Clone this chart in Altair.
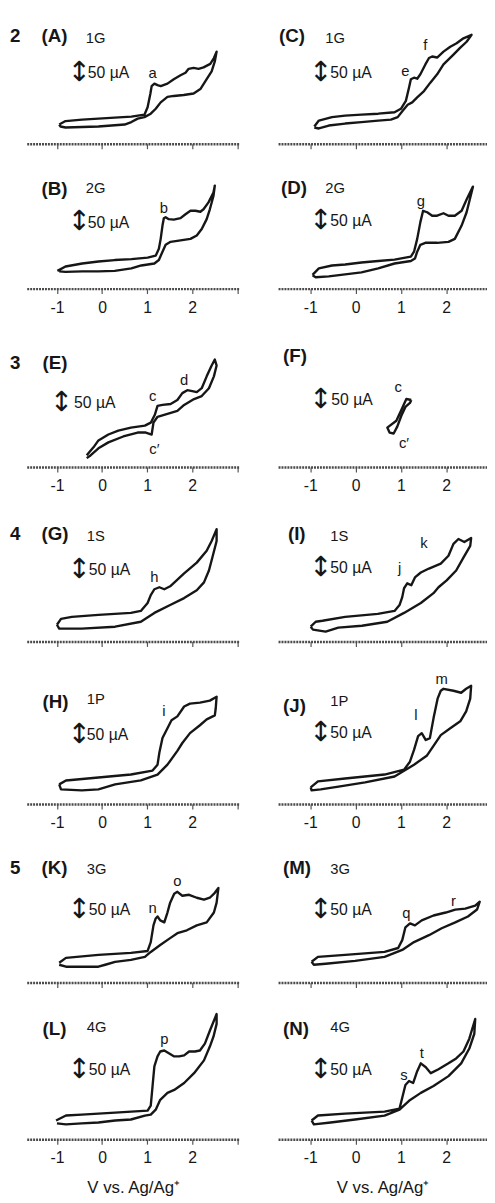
import altair as alt
import pandas as pd

INK = "#161616"
FONT = "Liberation Sans"

# ---------------- data (V vs Ag/Ag+, current in uA above each panel's axis) -------------
A_V = [-0.95,-0.81,-0.44,-0.08,0.28,0.65,0.94,1.01,1.07,1.10,1.16,1.23,1.30,1.45,1.59,1.74,1.85,1.92,2.03,2.14,2.25,2.40,2.48,2.54,
       2.50,2.43,2.32,2.18,2.03,1.81,1.59,1.45,1.30,1.19,1.08,0.94,0.79,0.65,0.50,0.21,-0.08,-0.44,-0.81,-0.92,-0.95]
A_I = [39,46,49,51,53,55,59,74,101,117,122,119,117,122,131,139,144,152,154,152,155,162,174,187,
       167,147,131,111,102,99,97,95,84,71,61,54,51,44,39,37,35,34,33,35,39]
C_V = [-0.91,-0.81,-0.52,-0.23,0.13,0.50,0.86,1.00,1.11,1.18,1.22,1.29,1.36,1.43,1.54,1.62,1.69,1.80,1.94,2.09,2.23,2.38,2.56,
       2.45,2.30,2.16,1.94,1.80,1.65,1.51,1.36,1.25,1.15,1.04,0.93,0.78,0.50,0.13,-0.23,-0.59,-0.81,-0.91]
C_I = [35,47,54,57,59,61,64,71,87,114,131,134,132,141,161,174,177,175,187,197,204,214,221,
       207,194,181,161,141,124,107,94,84,79,67,54,49,47,44,41,37,31,33]
B_V = [-0.99,-0.81,-0.44,-0.08,0.28,0.65,1.01,1.19,1.26,1.30,1.34,1.37,1.41,1.48,1.59,1.74,1.85,1.96,2.07,2.18,2.25,2.36,2.47,2.50,
       2.47,2.39,2.32,2.21,2.10,1.96,1.74,1.52,1.41,1.34,1.26,1.16,0.87,0.65,0.28,-0.08,-0.44,-0.81,-0.95]
B_I = [36,45,51,55,58,60,63,67,81,101,128,143,145,141,140,143,151,158,158,156,161,175,195,209,
       188,161,141,121,108,101,98,95,89,75,58,51,47,41,36,35,35,34,35]
D_V = [-0.95,-0.81,-0.52,-0.23,0.13,0.50,0.86,1.22,1.29,1.36,1.43,1.49,1.58,1.69,1.80,1.94,2.05,2.19,2.34,2.45,2.59,
       2.52,2.45,2.34,2.19,2.05,1.80,1.54,1.43,1.36,1.31,1.22,0.86,0.50,0.13,-0.23,-0.59,-0.88,-0.95]
D_I = [28,41,47,49,53,56,59,65,75,101,135,158,155,148,148,153,148,148,158,181,207,
       181,155,128,101,95,93,93,89,75,61,56,51,41,33,29,25,23,27]
E_V = [-0.34,-0.19,-0.08,0.14,0.36,0.64,0.95,1.08,1.17,1.23,1.34,1.52,1.67,1.78,1.89,2.00,2.10,2.21,2.32,2.43,2.50,
       2.54,2.48,2.37,2.21,2.04,1.82,1.67,1.45,1.23,1.14,1.10,0.97,0.79,0.47,0.14,-0.08,-0.25,-0.34]
E_I = [24,40,54,66,74,80,84,90,106,124,126,128,136,150,156,154,152,160,184,206,218,
       206,184,160,144,138,126,114,108,102,90,66,70,70,62,50,38,24,18]
F_V = [1.23,1.12,1.03,0.90,0.70,0.75,0.84,0.92,1.01,1.10,1.20,1.23]
F_I = [136,138,120,94,80,70,68,82,104,122,130,136]
G_V = [-1.00,-0.91,-0.67,-0.08,0.64,0.86,1.01,1.08,1.16,1.27,1.38,1.51,1.82,2.10,2.32,2.43,2.54,
       2.54,2.45,2.37,2.26,2.10,1.82,1.51,1.16,0.86,0.29,-0.45,-0.95,-1.00]
G_I = [34,46,50,54,58,62,78,94,106,110,106,112,138,160,184,204,228,
       204,172,144,120,104,88,74,58,40,30,26,26,34]
I_V = [-0.99,-0.88,-0.73,-0.23,0.49,0.86,0.97,1.03,1.07,1.14,1.23,1.31,1.44,1.62,1.88,2.05,2.16,2.27,2.40,2.55,
       2.53,2.38,2.22,2.01,1.83,1.72,1.44,1.07,0.70,0.14,-0.38,-0.66,-0.94,-0.99]
I_I = [30,40,42,50,56,62,74,90,108,118,114,130,140,148,158,174,198,208,202,210,
       194,170,144,124,110,98,78,58,40,32,28,20,24,30]
H_V = [-0.95,-0.80,-0.08,0.64,1.12,1.23,1.27,1.34,1.45,1.54,1.67,1.82,1.95,2.17,2.39,2.54,
       2.52,2.50,2.32,2.17,1.95,1.78,1.67,1.45,1.23,0.86,0.29,-0.08,-0.45,-0.91,-0.95]
H_I = [40,48,54,60,68,80,104,134,154,170,178,198,204,206,210,218,
       194,180,172,160,144,124,108,80,60,48,40,30,28,30,40]
J_V = [-0.99,-0.83,-0.23,0.64,1.07,1.20,1.29,1.38,1.46,1.55,1.64,1.72,1.81,1.88,1.94,2.16,2.33,2.44,2.55,
       2.53,2.44,2.31,2.09,1.88,1.72,1.57,1.29,0.86,0.21,-0.34,-0.77,-0.97,-0.99]
J_I = [34,46,52,60,70,86,110,138,144,130,134,174,214,230,234,230,226,234,240,
       214,188,168,154,140,118,98,80,56,44,36,30,28,34]
K_V = [-0.95,-0.80,-0.08,0.64,1.01,1.08,1.14,1.19,1.23,1.29,1.38,1.45,1.51,1.60,1.67,1.78,1.93,2.10,2.26,2.39,2.50,2.58,
       2.54,2.48,2.32,2.10,1.88,1.67,1.51,1.29,1.08,0.95,0.64,0.29,0.07,-0.08,-0.45,-0.80,-0.95]
K_I = [40,50,56,60,64,82,116,130,134,126,122,142,162,180,184,176,178,172,168,172,182,192,
       162,142,122,116,106,100,90,76,62,52,46,42,36,32,32,32,36]
M_V = [-0.97,-0.83,-0.23,0.64,0.94,1.03,1.10,1.20,1.31,1.46,1.72,1.99,2.20,2.42,2.64,2.74,
       2.68,2.48,2.20,1.90,1.62,1.29,1.03,0.64,-0.01,-0.66,-0.92,-0.97]
M_I = [42,52,56,62,70,86,112,120,116,126,136,142,148,150,156,164,
       148,134,122,110,96,82,66,52,44,38,36,42]
L_V = [-1.02,-0.80,-0.45,0.29,1.01,1.08,1.12,1.16,1.23,1.29,1.38,1.49,1.60,1.71,1.82,1.93,2.06,2.17,2.28,2.39,2.54,
       2.54,2.47,2.39,2.26,2.04,1.82,1.60,1.45,1.29,1.19,1.08,0.95,0.64,0.29,-0.08,-0.45,-0.80,-1.00]
L_I = [38,48,50,54,58,68,108,148,168,178,180,174,168,168,170,178,178,180,194,220,254,
       234,208,188,160,134,114,100,94,80,60,50,48,40,38,34,32,30,32]
N_V = [-0.97,-0.83,-0.23,0.64,0.97,1.03,1.10,1.18,1.27,1.36,1.44,1.55,1.66,1.83,2.05,2.22,2.38,2.51,2.64,
       2.62,2.51,2.33,2.05,1.72,1.44,1.18,0.97,0.64,-0.01,-0.55,-0.92,-0.97]
N_I = [38,48,52,56,62,84,110,118,114,138,154,146,134,142,154,164,178,204,244,
       214,184,154,128,108,94,78,60,48,40,34,30,38]

# peak letters
A_PK = (["a"], [1.12], [144])
C_PK = (["e", "f"], [1.10, 1.54], [148, 200])
B_PK = (["b"], [1.37], [163])
D_PK = (["g"], [1.44], [178])
E_PK = (["c", "d", "c\u2032"], [1.12, 1.82, 1.16], [144, 176, 36])
F_PK = (["c", "c\u2032"], [0.94, 1.07], [162, 48])
G_PK = (["h"], [1.16], [130])
I_PK = (["j", "k"], [0.97, 1.51], [148, 200])
H_PK = (["i"], [1.37], [188])
J_PK = (["l", "m"], [1.33, 1.90], [180, 254])
K_PK = (["n", "o"], [1.12, 1.67], [152, 206])
M_PK = (["q", "r"], [1.12, 2.16], [140, 166])
L_PK = (["p"], [1.38], [204])
N_PK = (["s", "t"], [1.07, 1.46], [130, 174])

# panel captions
FIG_NUMS = {"A": "2", "E": "3", "G": "4", "K": "5"}
SUBS = {"A": "1G", "C": "1G", "B": "2G", "D": "2G", "E": "", "F": "", "G": "1S", "I": "1S",
        "H": "1P", "J": "1P", "K": "3G", "M": "3G", "L": "4G", "N": "4G"}
SCALE_TXT = "50 \u00b5A"
X_TITLE = "V vs. Ag/Ag\u207a"

LEFT_DOM = [-1.67, 3.05]
RIGHT_DOM = [-1.71, 2.9]
LEFT_W, RIGHT_W = 216, 212
ROW_H = [129, 147, 181, 177, 165, 181, 159]
LABEL_ROWS = [False, True, True, False, True, False, True]

# caption placement inside each panel: title_y, sub_y, scale_y, letter_x, sub_x, arrow_x, text_x
CAP = {
    "A": (20, 22, 57, 15, 60, 53, 62), "C": (20, 22, 57, 1, 48, 43, 53),
    "B": (46, 45, 80, 15, 60, 53, 62), "D": (45, 45, 78, 3, 48, 43, 53),
    "E": (76, 76, 116, 16, 60, 35, 48), "F": (68, 68, 113, 5, 48, 43, 54),
    "G": (68, 70, 105, 15, 61, 53, 63), "I": (68, 70, 103, 10, 53, 43, 53),
    "H": (61, 58, 95, 16, 61, 53, 61), "J": (66, 60, 93, 5, 53, 43, 53),
    "K": (65, 66, 108, 15, 61, 53, 63), "M": (65, 66, 108, 5, 53, 43, 53),
    "L": (47, 45, 89, 16, 61, 53, 63), "N": (47, 45, 89, 5, 53, 43, 53),
}

ONE = pd.DataFrame({"d": [0]})


def txt(s, x, y, size, bold=False, font=FONT, align="left"):
    return alt.Chart(ONE).mark_text(
        text=s, align=align, baseline="middle", fontSize=size,
        fontWeight="bold" if bold else "normal", font=font, color=INK
    ).encode(x=alt.value(x), y=alt.value(y))


def panel(key, V, I, pk, row, left):
    H = ROW_H[row]
    dom = LEFT_DOM if left else RIGHT_DOM
    W = LEFT_W if left else RIGHT_W
    ticks = [-1, 0, 1, 2, 3] if left else [-1, 0, 1, 2]
    bottom = row == 6
    ax = alt.Axis(values=ticks, labels=LABEL_ROWS[row],
                  labelExpr="datum.value == 3 ? '' : (datum.value == -1 ? '-1' : datum.label)")
    if bottom:
        x = alt.X("V:Q", scale=alt.Scale(domain=dom, nice=False, zero=False), axis=ax, title=X_TITLE)
    else:
        x = alt.X("V:Q", scale=alt.Scale(domain=dom, nice=False, zero=False), axis=ax, title=None)
    y = alt.Y("I:Q", scale=alt.Scale(domain=[0, 2 * H], nice=False, zero=False), axis=None)
    df = pd.DataFrame({"V": V, "I": I, "k": list(range(len(V)))})
    line = alt.Chart(df).mark_line(color=INK, strokeWidth=2.4, strokeJoin="round").encode(
        x=x, y=y, order="k:Q")
    pdf = pd.DataFrame({"t": pk[0], "V": pk[1], "I": pk[2]})
    peaks = alt.Chart(pdf).mark_text(fontSize=15, font=FONT, color=INK).encode(x=x, y=y, text="t:N")
    ty, sy, scy, lx, sx, axx, tx = CAP[key]
    layers = [line, peaks,
              txt("(" + key + ")", lx, ty, 19, bold=True),
              txt("\u2195", axx, scy, 28, font="DejaVu Sans", align="center"),
              txt(SCALE_TXT, tx, scy, 16)]
    if SUBS[key]:
        layers.append(txt(SUBS[key], sx, sy, 15))
    if key in FIG_NUMS:
        layers.append(txt(FIG_NUMS[key], -17, ty, 19, bold=True))
    return alt.layer(*layers).properties(width=W, height=H)


order = [("A", A_V, A_I, A_PK), ("C", C_V, C_I, C_PK),
         ("B", B_V, B_I, B_PK), ("D", D_V, D_I, D_PK),
         ("E", E_V, E_I, E_PK), ("F", F_V, F_I, F_PK),
         ("G", G_V, G_I, G_PK), ("I", I_V, I_I, I_PK),
         ("H", H_V, H_I, H_PK), ("J", J_V, J_I, J_PK),
         ("K", K_V, K_I, K_PK), ("M", M_V, M_I, M_PK),
         ("L", L_V, L_I, L_PK), ("N", N_V, N_I, N_PK)]

panels = [panel(k, v, i, p, n // 2, n % 2 == 0) for n, (k, v, i, p) in enumerate(order)]

chart = alt.concat(*panels, columns=2, spacing={"row": 0, "column": 39}, bounds="flush").properties(
    padding={"left": 2, "top": 0, "right": 0, "bottom": 0}
).configure_view(stroke=None).configure_axis(
    grid=False, domainColor="#4a4a4a", domainWidth=2.5, domainDash=[2, 1],
    tickColor="#555555", tickSize=5, tickWidth=1.2,
    labelFont=FONT, labelFontSize=16, labelColor=INK, labelPadding=6,
    titleFont=FONT, titleFontSize=17, titleFontWeight="normal", titleColor=INK, titlePadding=14
)

chart.save("out.html", embed_options={"renderer": "svg", "actions": False})
